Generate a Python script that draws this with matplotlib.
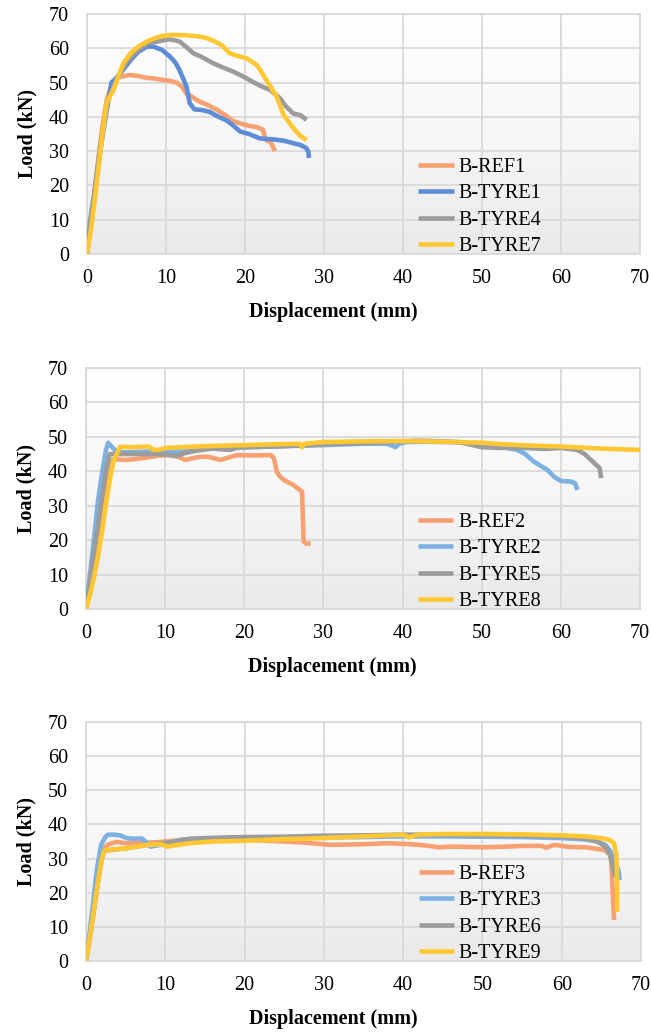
import numpy as np
import matplotlib
matplotlib.use('Agg')
import matplotlib.pyplot as plt
from matplotlib.colors import LinearSegmentedColormap

plt.rcParams['font.family'] = ['Liberation Serif', 'DejaVu Serif']

# ---- panel 1 ----
ref1_x = [0, 0.5, 1, 1.5, 2, 2.5, 3, 3.5, 4.2, 5.4, 6.5, 7.5, 8.5, 9.7, 10.5, 11.4, 12, 12.6,
          13.2, 13.9, 14.5, 15.5, 16.5, 17.5, 18.5, 19.5, 20.5, 21.5, 22.3, 22.5, 22.8, 23.2,
          23.6, 23.8]
ref1_y = [0, 9, 19, 29, 38, 45, 48.5, 50.5, 51.7, 52.2, 51.9, 51.4, 51.2, 50.7, 50.5, 49.9,
          48.8, 46.8, 46, 44.9, 44.2, 43.2, 42, 40.5, 38.8, 38, 37.4, 37, 36.2, 34, 33, 32.8,
          31, 30]
tyre1_x = [0, 0.5, 1, 1.5, 2, 2.5, 3.1, 3.8, 4.5, 5.5, 6.5, 7.6, 8.4, 9.5, 10.5, 11.2, 11.7,
           12.2, 12.6, 13, 13.6, 14.5, 15.5, 16.5, 17.7, 18.5, 19.4, 20.5, 21.9, 23.7, 25, 26,
           27, 27.7, 28, 28.1]
tyre1_y = [0, 9, 18, 27, 35, 42, 50, 51.5, 53.5, 56.5, 59, 60.5, 60.5, 59.5, 57.6, 55.8, 53.7,
           51, 48.8, 44, 42.2, 42, 41.5, 40.2, 38.9, 37.5, 35.7, 35, 33.7, 33.4, 33, 32.4,
           31.8, 31, 30, 28]
tyre4_x = [0, 0.4, 1, 1.5, 2, 2.5, 3, 4, 5, 6, 7, 7.9, 9, 10.3, 11, 11.7, 12.5, 13.5, 14.5,
           16, 17, 18.5, 20, 21, 22, 23.2, 24.4, 25.2, 26.1, 27, 27.8]
tyre4_y = [0, 10, 19, 28, 36, 43, 47, 52, 56, 58.5, 60.5, 61.5, 62, 62.6, 62.4, 62, 60.5,
           58.5, 57.5, 55.6, 54.6, 53.2, 51.5, 50.2, 49, 47.8, 45.5, 43, 41, 40.5, 39.1]
tyre7_x = [0, 0.5, 1, 1.5, 2, 2.5, 2.9, 3.3, 4, 4.6, 5.5, 6.5, 7.6, 8.6, 9.7, 11, 12.5, 14.3,
           15.1, 16, 17, 18.1, 19, 20.2, 21.5, 22.1, 22.7, 23.4, 24, 24.9, 25.6, 26.3, 27, 27.8]
tyre7_y = [0, 7, 16, 26, 36, 44, 46, 47.5, 52, 55.6, 58.5, 60.5, 62, 63, 63.7, 63.9, 63.8,
           63.4, 63, 62.2, 61, 58.5, 57.8, 57.1, 55.1, 53, 50.7, 48.2, 45.9, 40.5, 38.3, 36.2,
           34.5, 33.2]

# ---- panel 2 ----
ref2_x = [0, 0.5, 1, 1.5, 2, 2.5, 3, 3.5, 5, 6.5, 7.7, 9, 10.2, 11, 11.9, 12.5, 13.5, 14.4,
          15.5, 17, 18, 19.1, 21, 23.3, 23.7, 23.9, 24.1, 24.5, 25, 26.2, 27, 27.3, 27.4, 27.5,
          27.8, 28.4]
ref2_y = [0, 6, 13, 21, 29, 36, 42, 43.5, 43.3, 43.6, 44, 44.5, 44.7, 44.5, 44, 43.3, 43.8,
          44.2, 44.2, 43.3, 44, 44.7, 44.6, 44.7, 44, 42.3, 39.9, 38.5, 37.5, 36, 34.6, 34,
          27, 19.6, 19, 19]
tyre2_x = [0, 0.5, 1, 1.5, 2, 2.5, 2.8, 3.3, 3.9, 5, 7.7, 10, 11.9, 13, 15, 18, 20, 25, 30,
           35, 38, 38.6, 39.1, 39.6, 40.5, 43, 47, 50, 52, 54.5, 55.5, 56.6, 57.5, 58.3, 59.2,
           60, 61.3, 61.8, 62.1]
tyre2_y = [0, 10, 20, 31, 39, 46, 48.3, 47, 45.7, 45.5, 45.7, 45.8, 45.7, 46, 46.6, 46.8, 47,
           47.3, 47.6, 48, 48, 47.5, 47, 48, 48.5, 48.6, 48.4, 47.8, 47.3, 46.2, 45, 42.8,
           41.5, 40.4, 38.3, 37.2, 37, 36.5, 34.6]
tyre5_x = [0, 0.5, 1, 1.5, 2, 2.5, 3, 5, 7, 9, 10.5, 11.5, 12.5, 14, 16, 18.2, 19, 21, 25,
           30, 35, 40, 42, 45, 47, 48.5, 50, 52, 55, 58, 60, 62.1, 63, 63.8, 64.5, 64.9, 65.1]
tyre5_y = [0, 8, 16, 24, 32, 40, 45, 45, 45, 45, 44.8, 44.5, 45.3, 46, 46.6, 46.2, 46.8, 47,
           47.3, 47.8, 48.2, 48.7, 48.9, 48.7, 48.5, 47.8, 47, 46.8, 46.8, 46.5, 46.8, 46.2,
           45, 43.3, 41.8, 40.9, 38]
tyre8_x = [0, 0.5, 1, 1.5, 2, 2.5, 3, 3.5, 4.3, 6, 7.9, 8.5, 9, 10.2, 12, 15, 18, 20, 25, 27,
           27.3, 27.6, 30, 35, 40, 45, 50, 52.4, 55, 60.8, 65, 70]
tyre8_y = [0, 4, 9, 15, 22, 30, 37.5, 43, 47.1, 47, 47.2, 46.3, 46.2, 46.8, 47, 47.3, 47.5,
           47.6, 47.9, 48, 47, 48, 48.5, 48.7, 48.8, 48.6, 48.3, 47.9, 47.6, 47.1, 46.6, 46.2]

# ---- panel 3 ----
ref3_x = [0, 0.5, 1, 1.5, 2, 2.2, 2.8, 3.8, 5, 7, 9, 11, 13, 14.5, 16, 18, 19.5, 22, 25, 28,
          30.8, 35, 38, 41, 43, 44.5, 46.4, 50, 53, 55, 57.5, 58, 59.1, 61, 63, 65.4, 66.2,
          66.4, 66.6]
ref3_y = [0, 7, 15, 23, 31, 33, 34.1, 34.9, 34.5, 34.6, 34.8, 35.2, 35.6, 35.2, 35.4, 35.5,
          35.6, 35.3, 35, 34.6, 34, 34.2, 34.5, 34.2, 33.8, 33.3, 33.5, 33.3, 33.5, 33.7,
          33.7, 33.2, 34, 33.4, 33.3, 32.5, 31, 22, 12]
tyre3_x = [0, 0.5, 1, 1.35, 1.9, 2.5, 2.8, 3.5, 4.3, 5.1, 6, 7, 7.5, 8.1, 9.4, 10.5, 12, 14,
           17, 20, 25, 30, 35, 40, 45, 50, 55, 60, 63, 64.5, 65.5, 66.2, 66.8, 67.2, 67.3]
tyre3_y = [0, 9, 19, 26.5, 34, 36.5, 37, 37, 36.8, 36, 35.8, 35.9, 35, 33.5, 34, 34.5, 35,
           35.3, 35.5, 35.7, 36, 36.2, 36.3, 36.5, 36.5, 36.4, 36.3, 36, 35.6, 35, 34, 32, 29,
           26, 23.7]
tyre6_x = [0, 0.5, 1, 1.5, 2, 2.3, 3, 5, 7.7, 10, 12, 13, 15, 18, 20, 25, 30, 35, 40, 45, 50,
           55, 60, 63, 64.5, 65.5, 66.1, 66.4, 66.6, 66.7]
tyre6_y = [0, 7, 15, 23, 30, 32.2, 32.5, 33, 34, 34.5, 35.5, 35.8, 36, 36.2, 36.3, 36.4, 36.7,
           36.8, 37, 37, 36.9, 36.7, 36.5, 35.8, 35, 33.5, 31, 28, 25.5, 24.7]
tyre9_x = [0, 0.5, 1, 1.5, 2, 2.3, 3, 5, 7.7, 9.5, 10.2, 11, 13.1, 16, 20, 25, 30, 35, 40,
           40.7, 41.2, 42, 45, 50, 55, 60, 63, 65, 66, 66.6, 66.9, 67.0, 67.0]
tyre9_y = [0, 7, 15, 23, 30, 32.3, 32.6, 33, 34, 34.2, 33.5, 33.8, 34.5, 35, 35.2, 35.7, 36,
           36.5, 37, 36.2, 36.6, 37, 37.2, 37.2, 37.1, 36.8, 36.5, 36, 35.5, 34.5, 31, 22, 14.4]

ORANGE = '#F7A172'
BLUE1 = '#5C8DD6'
BLUE2 = '#7DB1E2'
GRAY = '#9C9C9C'
YELLOW = '#FFC832'
GRID = '#D9D9D9'

panels = [
    ([(ref1_x, ref1_y, 'B-REF1', ORANGE), (tyre1_x, tyre1_y, 'B-TYRE1', BLUE1),
      (tyre4_x, tyre4_y, 'B-TYRE4', GRAY), (tyre7_x, tyre7_y, 'B-TYRE7', YELLOW)],
     [87 / 651, 1 - 254 / 1032, 553 / 651, 240 / 1032]),
    ([(ref2_x, ref2_y, 'B-REF2', ORANGE), (tyre2_x, tyre2_y, 'B-TYRE2', BLUE2),
      (tyre5_x, tyre5_y, 'B-TYRE5', GRAY), (tyre8_x, tyre8_y, 'B-TYRE8', YELLOW)],
     [86 / 651, 1 - 609 / 1032, 554 / 651, 241 / 1032]),
    ([(ref3_x, ref3_y, 'B-REF3', ORANGE), (tyre3_x, tyre3_y, 'B-TYRE3', BLUE2),
      (tyre6_x, tyre6_y, 'B-TYRE6', GRAY), (tyre9_x, tyre9_y, 'B-TYRE9', YELLOW)],
     [86 / 651, 1 - 961 / 1032, 555 / 651, 239 / 1032]),
]

bg = LinearSegmentedColormap.from_list('bg', ['#EAEAEA', '#F7F7F7', '#FFFFFF'])
grad = np.linspace(0, 1, 256).reshape(-1, 1)

fig = plt.figure(figsize=(6.51, 10.32), dpi=100)
for series, rect in panels:
    ax = fig.add_axes(rect)
    ax.imshow(grad, extent=[0, 1, 0, 1], transform=ax.transAxes, aspect='auto',
              cmap=bg, origin='lower', zorder=0)
    for x, y, label, color in series:
        ax.plot(x, y, color=color, lw=3.3, label=label, solid_joinstyle='round',
                solid_capstyle='butt', zorder=3)
    ax.set_xlim(0, 70)
    ax.set_ylim(0, 70)
    ax.set_xticks(range(0, 71, 10))
    ax.set_yticks(range(0, 71, 10))
    ax.set_axisbelow(True)
    ax.grid(True, color=GRID, lw=1.3)
    for sp in ax.spines.values():
        sp.set_color(GRID)
        sp.set_linewidth(1.3)
    ax.tick_params(length=0, labelsize=14.5, pad=11)
    ax.tick_params(axis='y', pad=13)
    ax.set_xlabel('Displacement (mm)', fontsize=14.5, fontweight='bold', labelpad=10)
    # Excel put the axis title a bit left of centre
    ax.xaxis.set_label_coords(0.445, -0.2)
    ax.set_ylabel('Load (kN)', fontsize=14.5, fontweight='bold', labelpad=8)
    ax.legend(loc='lower left', bbox_to_anchor=(0.592, -0.025), frameon=False,
              fontsize=14.5, handlelength=1.75, handletextpad=0.25, labelspacing=0.36,
              borderaxespad=0, borderpad=0.2)

fig.savefig('out.png', dpi=100)
